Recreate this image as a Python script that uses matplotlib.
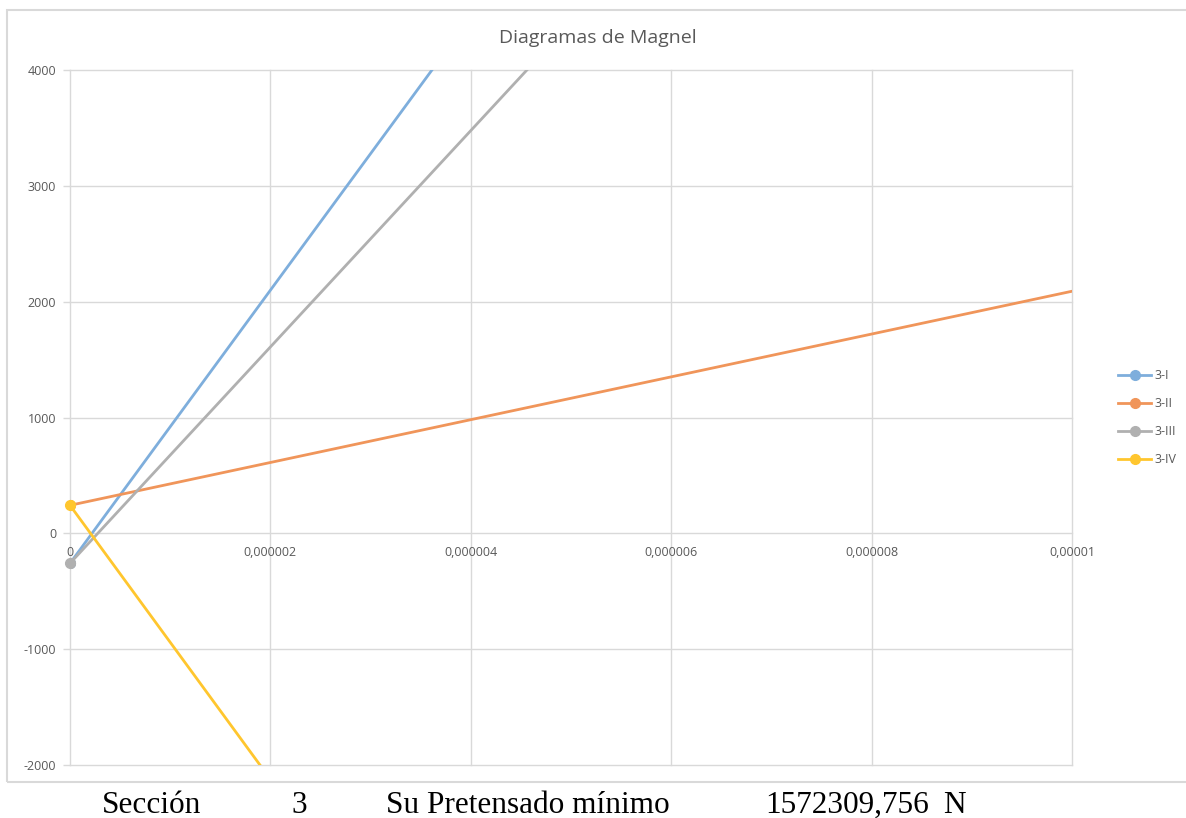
import matplotlib
matplotlib.use("Agg")
import matplotlib.pyplot as plt
from matplotlib.patches import Rectangle
from matplotlib.ticker import FixedLocator

plt.rcParams["axes.unicode_minus"] = False

# Magnel lines for section 3 (x = 1/P, y = e)
series_names = ["3-I", "3-II", "3-III", "3-IV"]
series_colors = ["#7eaedc", "#f0955a", "#b0b0b0", "#ffc62e"]
x_points = [0.0, 0.00001]
y_3I = [-259.0, 11531.0]
y_3II = [242.0, 2090.0]
y_3III = [-259.0, 9081.0]
y_3IV = [242.0, -11583.0]
series_values = [y_3I, y_3II, y_3III, y_3IV]

x_ticks = [0, 0.000002, 0.000004, 0.000006, 0.000008, 0.00001]
x_tick_labels = ["0", "0,000002", "0,000004", "0,000006", "0,000008", "0,00001"]
y_ticks = [-2000, -1000, 0, 1000, 2000, 3000, 4000]

footer_items = [("Sección", 102), ("3", 291), ("Su Pretensado mínimo", 386),
                ("1572309,756", 765), ("N", 943)]

W, H = 1186, 818
fig = plt.figure(figsize=(W / 100, H / 100), dpi=100)
fig.patch.set_facecolor("white")

# chart frame
frame = Rectangle((7 / W, 1 - 782 / H), (W + 10 - 7) / W, (782 - 10) / H,
                  transform=fig.transFigure, fill=False, edgecolor="#d9d9d9",
                  linewidth=1.5, clip_on=False)
fig.patches.append(frame)

ax = fig.add_axes([70 / W, 1 - 765 / H, (1072 - 70) / W, (765 - 70) / H])
text_color = "#595959"
grid_color = "#d9d9d9"
sans = ["Open Sans", "DejaVu Sans"]

for name, color, ys in zip(series_names, series_colors, series_values):
    ax.plot(x_points, ys, color=color, linewidth=2, marker="o", markersize=7,
            markevery=[0], label=name, zorder=3)
# start markers of the upper series drawn on top
ax.plot(x_points[:1], y_3IV[:1], "o", color=series_colors[3], markersize=7,
        zorder=4, clip_on=False)
ax.plot(x_points[:1], y_3III[:1], "o", color=series_colors[2], markersize=7,
        zorder=4, clip_on=False)

ax.set_xlim(0, 0.00001)
ax.set_ylim(-2000, 4000)
ax.xaxis.set_major_locator(FixedLocator(x_ticks))
ax.yaxis.set_major_locator(FixedLocator(y_ticks))
ax.set_xticklabels(x_tick_labels)
ax.grid(False)
for side in ["top", "right", "bottom", "left"]:
    ax.spines[side].set_visible(False)

# gridlines, including the outer ones at the plot edges
for xv in x_ticks:
    ax.axvline(xv, color=grid_color, linewidth=1, zorder=1, clip_on=False)
for yv in y_ticks:
    ax.axhline(yv, color=grid_color, linewidth=1, zorder=1, clip_on=False)

ax.xaxis.set_ticks_position("bottom")
ax.spines["bottom"].set_position(("data", 0))
ax.tick_params(axis="x", length=0, pad=9, labelsize=9, colors=text_color)
ax.tick_params(axis="y", length=5, width=1, color=grid_color, pad=5,
               labelsize=9, labelcolor=text_color)
for lab in ax.get_xticklabels() + ax.get_yticklabels():
    lab.set_fontfamily(sans)

fig.text(598 / W, 1 - 38 / H, "Diagramas de Magnel", ha="center", va="center",
         fontsize=14, color=text_color, family=sans)

leg = ax.legend(loc="center left", bbox_to_anchor=(1.035, 0.5), frameon=False,
                handlelength=2.6, handletextpad=0.3, labelspacing=1.2,
                prop={"family": sans, "size": 9})
for t in leg.get_texts():
    t.set_color(text_color)

for txt, xpx in footer_items:
    fig.text(xpx / W, 1 - 813 / H, txt, ha="left", va="baseline", fontsize=22.5,
             family="Liberation Serif", color="black")

fig.savefig("out.png", dpi=100, facecolor="white")
